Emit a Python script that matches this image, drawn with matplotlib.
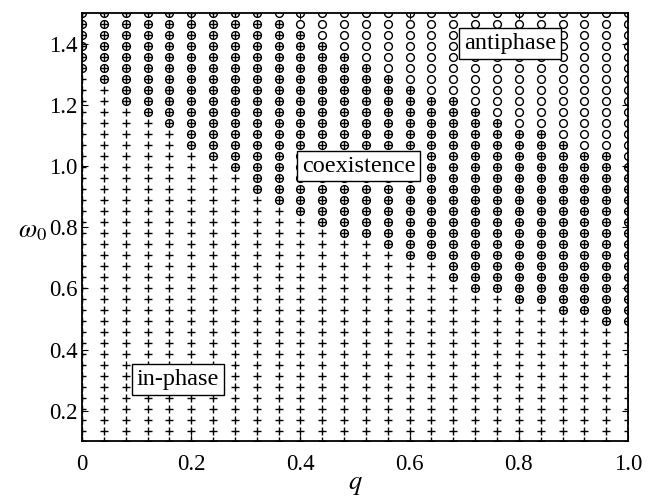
import numpy as np
import matplotlib
matplotlib.use('Agg')
import matplotlib.pyplot as plt

plt.rcParams['font.family'] = ['Liberation Serif', 'DejaVu Serif']
plt.rcParams['mathtext.fontset'] = 'stix'

# grid of the scan
q_vals = np.linspace(0, 1, 26)          # 0, 0.04, ..., 1
w_vals = np.linspace(1.5, 0.1, 40)      # rows from the top down

# per column (q), counted from the top row:
# how many rows show an antiphase circle
n_anti = [6, 7, 9, 10, 11, 13, 14, 15, 17, 18, 19, 20, 21, 21, 22, 23, 23,
          25, 26, 26, 27, 27, 28, 28, 29, 29]
# how many rows have lost the in-phase plus
n_no_inphase = [0, 0, 0, 0, 0, 0, 0, 0, 0, 1, 2, 3, 4, 5, 6, 7, 8, 8,
                9, 10, 11, 11, 12, 13, 13, 14]

x_ticks = [0, 0.2, 0.4, 0.6, 0.8, 1.0]
x_labels = ['0', '0.2', '0.4', '0.6', '0.8', '1.0']
y_ticks = [0.2, 0.4, 0.6, 0.8, 1.0, 1.2, 1.4]
y_labels = ['0.2', '0.4', '0.6', '0.8', '1.0', '1.2', '1.4']

plus_q, plus_w, circ_q, circ_w = [], [], [], []
for j, q in enumerate(q_vals):
    for i, w in enumerate(w_vals):
        if i >= n_no_inphase[j]:
            plus_q.append(q)
            plus_w.append(w)
        if i < n_anti[j]:
            circ_q.append(q)
            circ_w.append(w)

fig = plt.figure(figsize=(6.57, 4.96), dpi=100)
ax = fig.add_axes([0.1248, 0.1099, 0.8312, 0.8639])

ax.plot(plus_q, plus_w, '+', color='k', markersize=6, markeredgewidth=1.0)
ax.plot(circ_q, circ_w, 'o', color='k', markerfacecolor='none',
        markersize=5.6, markeredgewidth=1.0)

ax.set_xlim(0, 1)
ax.set_ylim(0.1, 1.5)
ax.set_xticks(x_ticks)
ax.set_xticklabels(x_labels)
ax.set_yticks(y_ticks)
ax.set_yticklabels(y_labels)
ax.tick_params(direction='in', length=4, width=0.8, labelsize=16.5,
               top=True, right=True)
ax.tick_params(axis='x', pad=9)
ax.tick_params(axis='y', pad=3)
for s in ax.spines.values():
    s.set_linewidth(1.3)

ax.set_xlabel('$q$', fontsize=19, labelpad=0)
ax.set_ylabel(r'$\omega_0$', fontsize=19, rotation=0, ha='center', va='center')
ax.yaxis.set_label_coords(-0.09, 0.49)

box = dict(boxstyle='square,pad=0.2', facecolor='white', edgecolor='k', linewidth=1)
ax.text(0.784, 1.4, 'antiphase', fontsize=17.5, ha='center', va='center', bbox=box)
ax.text(0.507, 1.0, 'coexistence', fontsize=17.5, ha='center', va='center', bbox=box)
ax.text(0.176, 0.302, 'in-phase', fontsize=17.5, ha='center', va='center', bbox=box)

fig.savefig('out.png', dpi=100)
